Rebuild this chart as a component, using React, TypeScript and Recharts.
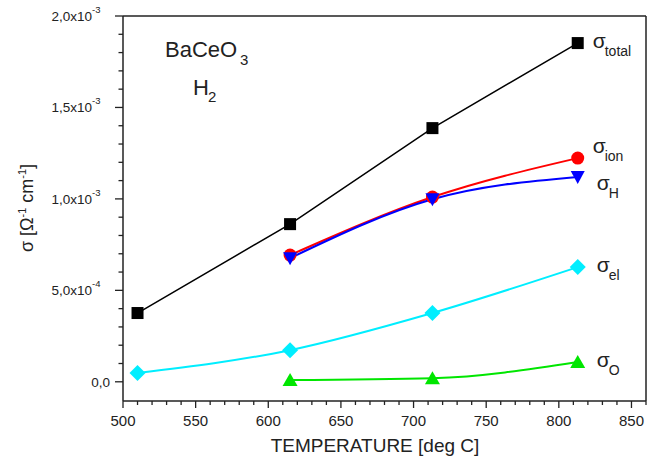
import React from 'react';
import { LineChart, Line, XAxis, YAxis, ReferenceLine, Customized } from 'recharts';

// conductivity vs temperature, BaCeO3 in H2
const tempsAll = [510, 615, 713, 813];
const tempsHigh = [615, 713, 813];
const sigmaTotal = [0.376e-3, 0.862e-3, 1.387e-3, 1.852e-3];
const sigmaIon = [0.693e-3, 1.01e-3, 1.223e-3];
const sigmaH = [0.676e-3, 0.998e-3, 1.12e-3];
const sigmaEl = [0.048e-3, 0.173e-3, 0.376e-3, 0.627e-3];
const sigmaO = [0.01e-3, 0.02e-3, 0.108e-3];

const xMajor = [500, 550, 600, 650, 700, 750, 800, 850];
const xMinor = Array.from({ length: 37 }, (_, i) => 500 + i * 10);
const yMajorLabels: Record<number, [string, string]> = {
  0: ['0,0', ''],
  5: ['5,0x10', '-4'],
  10: ['1,0x10', '-3'],
  15: ['1,5x10', '-3'],
  20: ['2,0x10', '-3'],
};
const yMinor = Array.from({ length: 21 }, (_, i) => i / 10000);

const FONT = '"Liberation Sans", Arial, sans-serif';
const INK = '#222';

const toRows = (t: number[], v: number[]) => t.map((x, i) => ({ t: x, v: v[i] }));

const XTick = ({ x, y, payload }: any) => {
  const major = xMajor.includes(payload.value);
  return (
    <g>
      <line x1={x} x2={x} y1={y} y2={y + (major ? 7 : 4)} stroke={INK} strokeWidth={1.3} />
      {major && (
        <text x={x} y={y + 25} textAnchor="middle" fontSize={15} fontFamily={FONT} fill={INK}>
          {payload.value}
        </text>
      )}
    </g>
  );
};

const YTick = ({ x, y, payload }: any) => {
  const k = Math.round(payload.value * 10000);
  const lab = yMajorLabels[k];
  return (
    <g>
      <line x1={x - (lab ? 8 : 4.5)} x2={x} y1={y} y2={y} stroke={INK} strokeWidth={1.3} />
      {lab && (
        <text x={x - (lab[1] ? 31 : 13)} y={y + 5} textAnchor="end" fontSize={13.5} fontFamily={FONT} fill={INK}>
          {lab[0]}
        </text>
      )}
      {lab && lab[1] && (
        <text x={x - 31} y={y - 3} fontSize={9.5} fontFamily={FONT} fill={INK}>
          {lab[1]}
        </text>
      )}
    </g>
  );
};

const Square = ({ cx, cy }: any) => <rect x={cx - 6} y={cy - 6} width={12} height={12} fill="#000" />;
const Circle = ({ cx, cy }: any) => <circle cx={cx} cy={cy} r={6.5} fill="#ff0000" />;
const TriDown = ({ cx, cy }: any) => (
  <polygon points={`${cx - 7},${cy - 6} ${cx + 7},${cy - 6} ${cx},${cy + 7}`} fill="#0000ff" />
);
const TriUp = ({ cx, cy }: any) => (
  <polygon points={`${cx - 7.5},${cy + 6} ${cx + 7.5},${cy + 6} ${cx},${cy - 7}`} fill="#00e600" />
);
const Diamond = ({ cx, cy }: any) => (
  <polygon points={`${cx},${cy - 8} ${cx + 8},${cy} ${cx},${cy + 8} ${cx - 8},${cy}`} fill="#00eeff" />
);

// σ with subscript, placed next to the last point of a series
const sigmaLabel = (sub: string, last: number, dx: number, dy: number) => (p: any) => {
  if (p.index !== last) return <g key={p.index} />;
  return (
    <g key={p.index}>
      <text x={p.x + dx} y={p.y + dy} fontSize={21} fontFamily={FONT} fill={INK}>σ</text>
      <text x={p.x + dx + 12} y={p.y + dy + 8} fontSize={14} fontFamily={FONT} fill={INK}>{sub}</text>
    </g>
  );
};

const Titles = () => (
  <g fontFamily={FONT} fill={INK}>
    <text x={165} y={57} fontSize={22}>BaCeO</text>
    <text x={240} y={65} fontSize={15}>3</text>
    <text x={193} y={95} fontSize={22}>H</text>
    <text x={208} y={102} fontSize={15}>2</text>
    <text x={375} y={452} fontSize={19} textAnchor="middle">TEMPERATURE [deg C]</text>
    <text transform="translate(33,208) rotate(-90)" fontSize={18} textAnchor="middle">
      <tspan>σ [Ω</tspan>
      <tspan dy={-7} fontSize={11}>-1</tspan>
      <tspan dy={7}> cm</tspan>
      <tspan dy={-7} fontSize={11}>-1</tspan>
      <tspan dy={7}>]</tspan>
    </text>
  </g>
);

export default function App() {
  return (
    <div style={{ position: 'fixed', left: 0, top: 0, width: 657, height: 458, background: '#fff' }}>
      <LineChart width={657} height={458} margin={{ top: 16, right: 11, left: 63, bottom: 27 }}>
        <XAxis
          type="number"
          dataKey="t"
          domain={[500, 860]}
          ticks={xMinor}
          interval={0}
          tick={<XTick />}
          tickSize={0}
          tickMargin={0}
          height={30}
          axisLine={{ stroke: INK, strokeWidth: 1.5 }}
          allowDataOverflow
        />
        <YAxis
          type="number"
          dataKey="v"
          domain={[-1.05e-4, 2e-3]}
          ticks={yMinor}
          interval={0}
          tick={<YTick />}
          tickSize={0}
          tickMargin={0}
          width={60}
          axisLine={{ stroke: INK, strokeWidth: 1.5 }}
          allowDataOverflow
        />
        <ReferenceLine y={2e-3} stroke={INK} strokeWidth={1.5} />
        <ReferenceLine x={860} stroke={INK} strokeWidth={1.5} />
        <Line
          data={toRows(tempsAll, sigmaTotal)}
          dataKey="v"
          type="linear"
          stroke="#000"
          strokeWidth={1.5}
          dot={(p: any) => <Square key={p.index} {...p} />}
          label={sigmaLabel('total', 3, 15, 5)}
          isAnimationActive={false}
        />
        <Line
          data={toRows(tempsHigh, sigmaIon)}
          dataKey="v"
          type="monotone"
          stroke="#ff0000"
          strokeWidth={2}
          dot={(p: any) => <Circle key={p.index} {...p} />}
          label={sigmaLabel('ion', 2, 15, -5)}
          isAnimationActive={false}
        />
        <Line
          data={toRows(tempsHigh, sigmaH)}
          dataKey="v"
          type="monotone"
          stroke="#0000ff"
          strokeWidth={2}
          dot={(p: any) => <TriDown key={p.index} {...p} />}
          label={sigmaLabel('H', 2, 19, 13)}
          isAnimationActive={false}
        />
        <Line
          data={toRows(tempsAll, sigmaEl)}
          dataKey="v"
          type="monotone"
          stroke="#00eeff"
          strokeWidth={2}
          dot={(p: any) => <Diamond key={p.index} {...p} />}
          label={sigmaLabel('el', 3, 19, 5)}
          isAnimationActive={false}
        />
        <Line
          data={toRows(tempsHigh, sigmaO)}
          dataKey="v"
          type="monotone"
          stroke="#00e600"
          strokeWidth={2}
          dot={(p: any) => <TriUp key={p.index} {...p} />}
          label={sigmaLabel('O', 2, 19, 5)}
          isAnimationActive={false}
        />
        <Customized component={Titles} />
      </LineChart>
    </div>
  );
}
